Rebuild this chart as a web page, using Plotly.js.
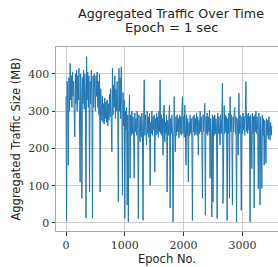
<!DOCTYPE html>
<html>
<head>
<meta charset="utf-8">
<script src="https://cdn.plot.ly/plotly-3.0.1.min.js"></script>
<style>html,body{margin:0;padding:0;background:#fff;}#chart{width:278px;height:267px;}</style>
</head>
<body>
<div id="chart"></div>
<script>
// Epoch numbers (one sample every 10 epochs)
const epochStep = 10;
// Aggregated traffic size (MB), epochs 0..3500
const traffic = [
  340, 5, 380, 320, 155, 390, 300, 428, 330, 395,
  310, 405, 340, 380, 290, 231, 400, 320, 410, 300,
  395, 330, 415, 310, 110, 400, 345, 66, 390, 320,
  410, 305, 400, 350, 13, 446, 330, 405, 310, 395,
  83, 380, 320, 410, 340, 13, 395, 310, 400, 335,
  300, 395, 340, 405, 310, 380, 290, 400, 83, 360,
  330, 275, 340, 270, 320, 265, 335, 280, 325, 270,
  330, 260, 320, 275, 345, 285, 360, 300, 191, 415,
  290, 370, 310, 395, 280, 360, 300, 380, 290, 56,
  415, 300, 390, 280, 419, 310, 74, 350, 260, 330,
  12, 300, 250, 310, 48, 290, 3, 270, 343, 120,
  290, 235, 300, 240, 285, 230, 120, 295, 245, 280,
  235, 300, 250, 12, 290, 240, 218, 285, 230, 295,
  245, 7, 280, 384, 235, 290, 245, 209, 300, 240,
  285, 230, 295, 101, 270, 240, 300, 235, 285, 250,
  290, 137, 280, 235, 295, 240, 285, 230, 300, 245,
  384, 240, 290, 235, 280, 182, 295, 316, 218, 270,
  240, 290, 83, 275, 235, 285, 316, 40, 280, 240,
  290, 245, 3, 275, 339, 240, 191, 285, 235, 290,
  245, 280, 228, 290, 240, 285, 235, 295, 339, 240,
  285, 230, 316, 250, 155, 290, 235, 280, 110, 270,
  235, 290, 240, 280, 230, 7, 285, 245, 290, 235,
  280, 240, 295, 235, 285, 182, 275, 240, 300, 245,
  285, 235, 66, 290, 245, 280, 321, 21, 285, 240,
  295, 235, 285, 245, 303, 120, 280, 240, 16, 290,
  56, 285, 235, 290, 240, 280, 245, 12, 295, 240,
  285, 235, 209, 290, 240, 280, 375, 52, 285, 315,
  240, 290, 245, 285, 7, 280, 240, 295, 66, 339,
  245, 290, 240, 48, 285, 245, 295, 310, 240, 285,
  3, 280, 245, 182, 348, 240, 290, 250, 34, 285,
  240, 295, 250, 285, 235, 300, 379, 245, 290, 240,
  295, 250, 285, 3, 290, 245, 146, 295, 240, 285,
  40, 290, 245, 300, 240, 285, 250, 92, 295, 240,
  48, 285, 240, 93, 290, 235, 280, 155, 275, 230,
  160, 280, 235, 275, 225, 285, 230, 222, 270, 235,
  260
];
const epochs = traffic.map((_, i) => i * epochStep);
const xTicks = [0, 1000, 2000, 3000];
const yTicks = [0, 100, 200, 300, 400];
const titleLines = ['Aggregated Traffic Over Time', 'Epoch = 1 sec'];

const sans = '"DejaVu Sans", sans-serif';
const serif = '"DejaVu Serif", serif';

Plotly.newPlot('chart', [{
  x: epochs, y: traffic, type: 'scatter', mode: 'lines',
  line: {color: '#1f77b4', width: 1}, hoverinfo: 'skip'
}], {
  width: 278, height: 267,
  margin: {l: 56, r: 0, t: 47, b: 36, pad: 0},
  paper_bgcolor: '#fff', plot_bgcolor: '#fff',
  showlegend: false,
  annotations: [
    {text: titleLines[0], xref: 'paper', yref: 'paper', x: (171 - 56) / 222, y: 1 + (47 - 13.5) / 184,
     xanchor: 'center', yanchor: 'middle', showarrow: false,
     font: {family: sans, size: 12.7, color: '#222'}},
    {text: titleLines[1], xref: 'paper', yref: 'paper', x: (171 - 56) / 222, y: 1 + (47 - 27.5) / 184,
     xanchor: 'center', yanchor: 'middle', showarrow: false,
     font: {family: sans, size: 13, color: '#222'}}
  ],
  xaxis: {
    range: [-170, 3605], tickvals: xTicks, ticktext: xTicks.map(String),
    showgrid: true, gridcolor: '#cccccc', gridwidth: 1, zeroline: false,
    showline: true, linecolor: '#aaaaaa', linewidth: 1, mirror: true,
    ticks: 'outside', ticklen: 3.5, tickcolor: '#333', tickwidth: 1,
    tickfont: {family: serif, size: 11, color: '#333'},
    title: {text: 'Epoch No.', font: {family: sans, size: 11.5, color: '#222'}, standoff: 0}
  },
  yaxis: {
    range: [-21.5, 472], tickvals: yTicks, ticktext: yTicks.map(String),
    showgrid: true, gridcolor: '#cccccc', gridwidth: 1, zeroline: false,
    showline: true, linecolor: '#aaaaaa', linewidth: 1, mirror: false,
    ticks: 'outside', ticklen: 3.5, tickcolor: '#333', tickwidth: 1,
    tickfont: {family: serif, size: 11, color: '#333'},
    title: {text: 'Aggregated Traffic Size (MB)', font: {family: sans, size: 11.5, color: '#222'}, standoff: 5}
  }
}, {staticPlot: true, displayModeBar: false});
</script>
</body>
</html>
